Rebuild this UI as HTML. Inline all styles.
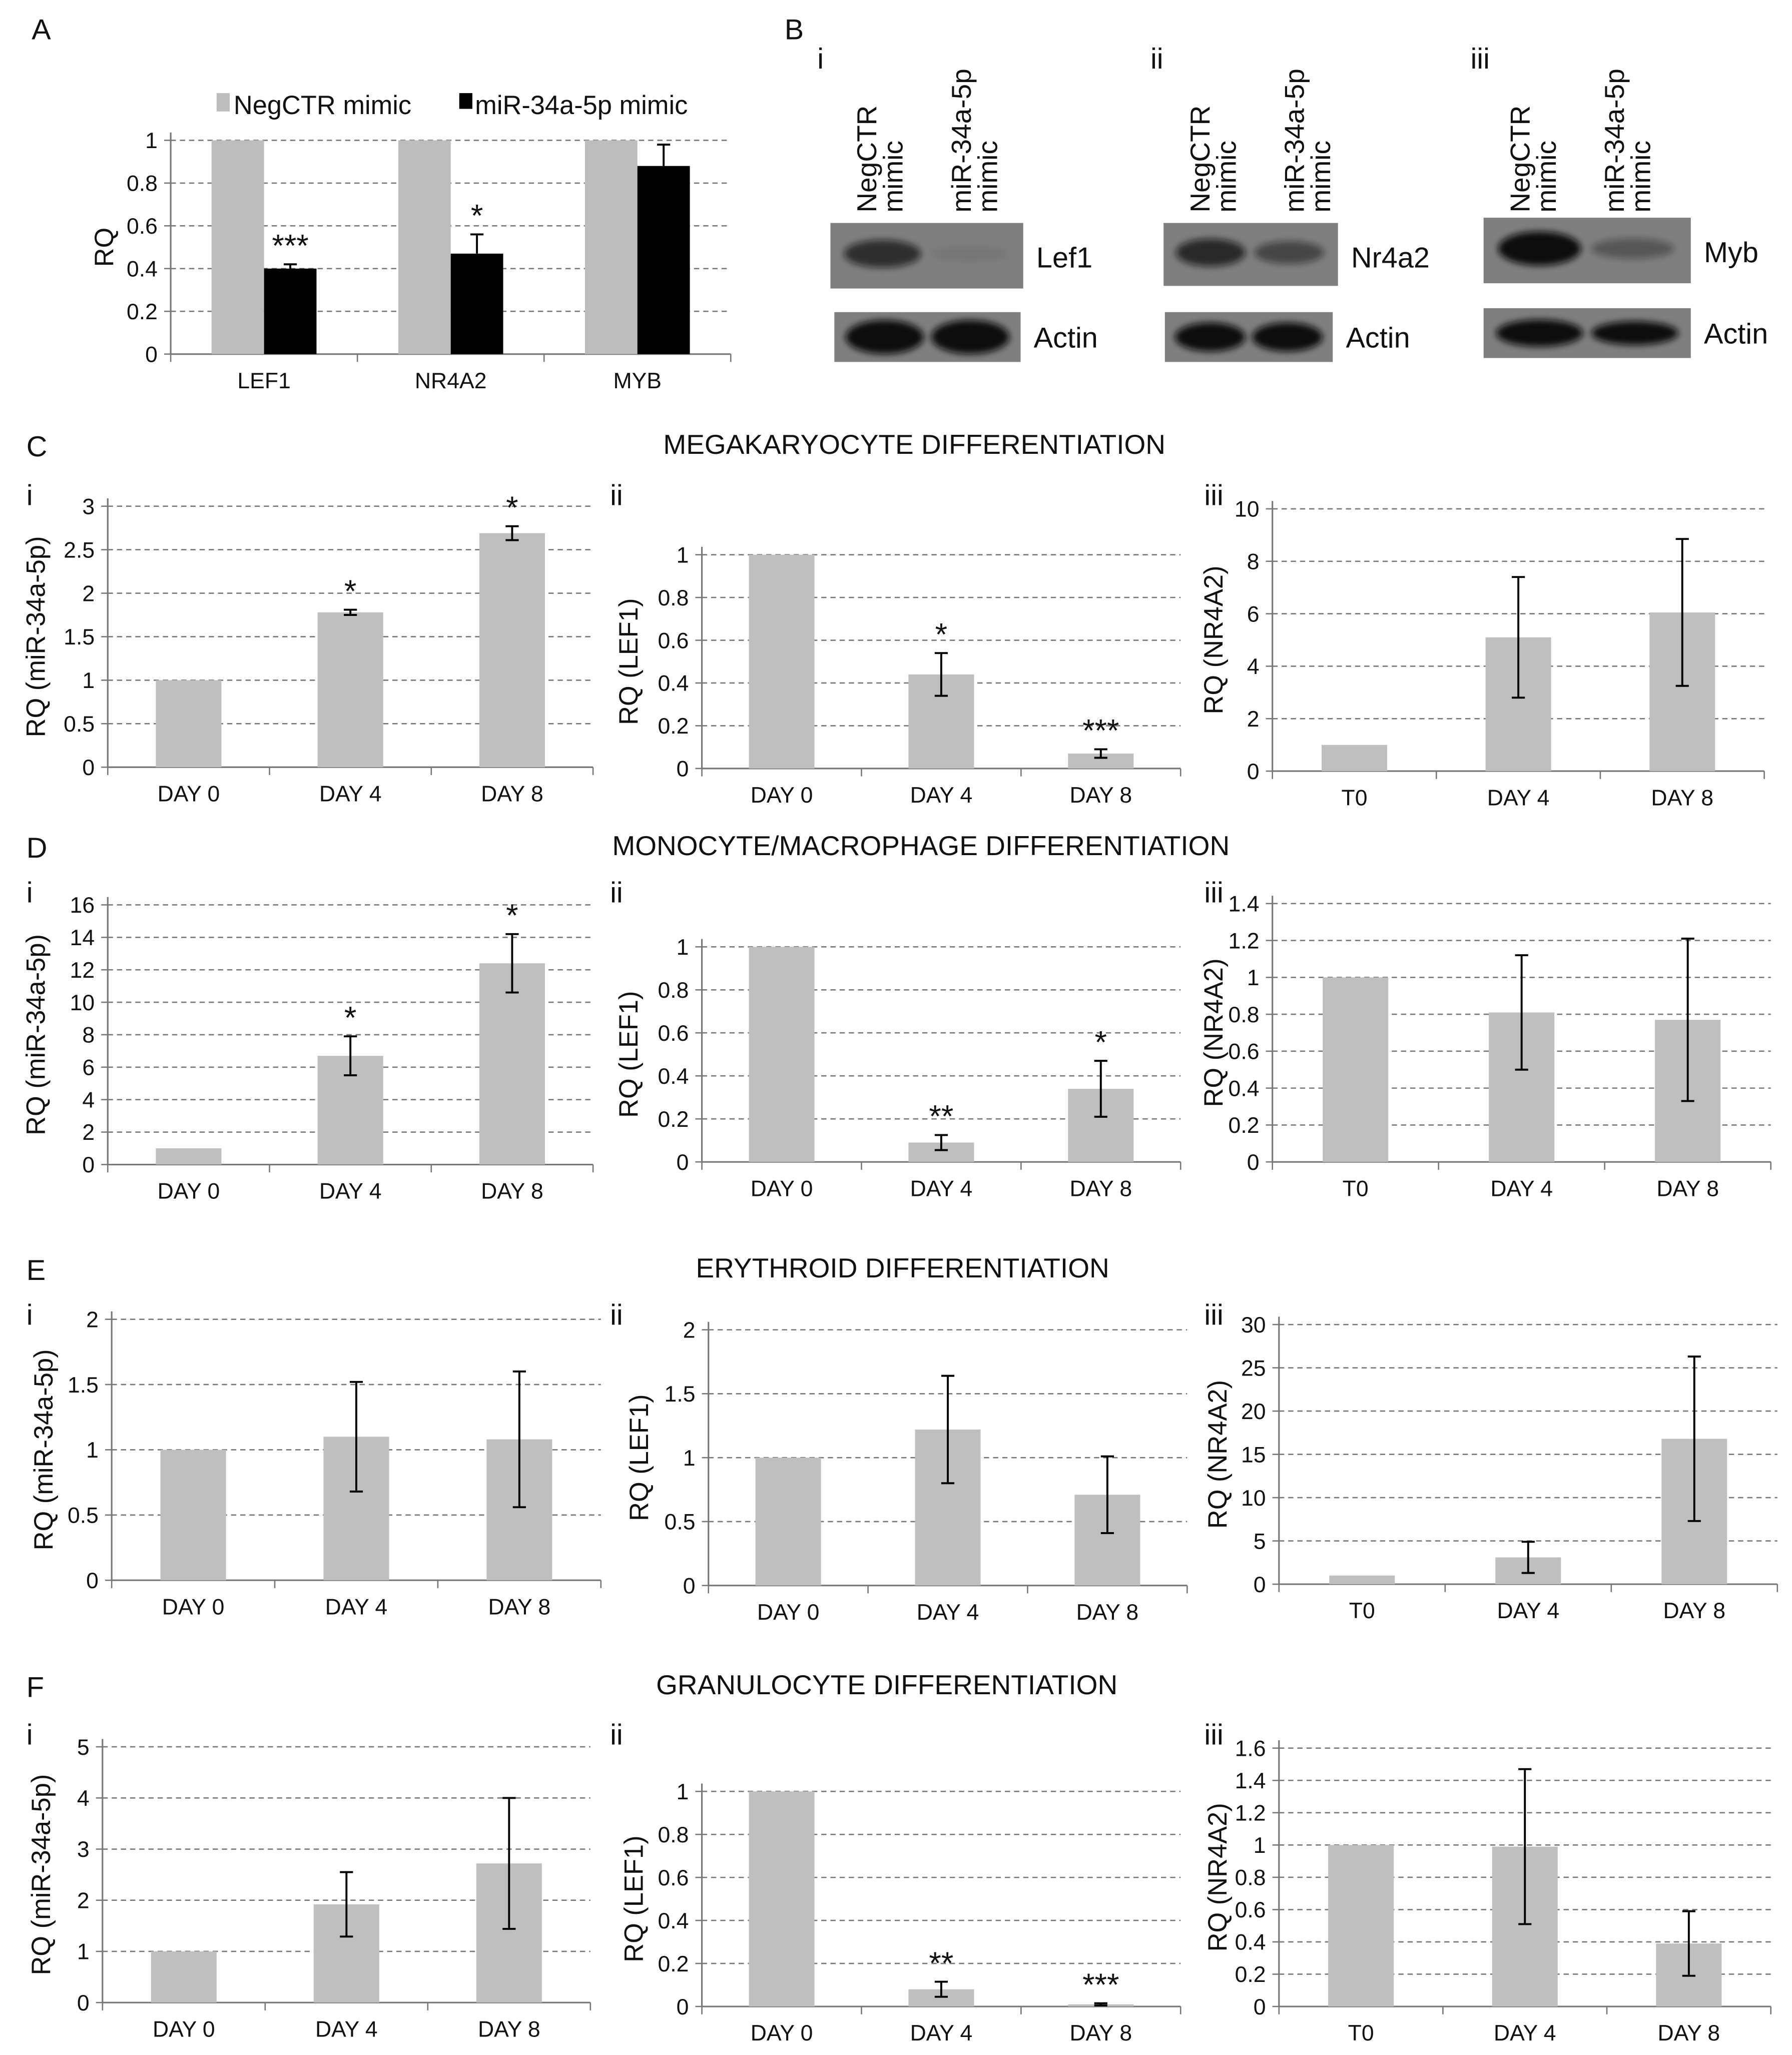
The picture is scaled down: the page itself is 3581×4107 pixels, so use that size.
<!DOCTYPE html>
<html><head><meta charset="utf-8">
<style>
html,body{margin:0;padding:0;background:#fff}
svg{display:block}
text{font-family:"Liberation Sans",sans-serif;fill:#111}
</style></head>
<body>
<svg id="fig" width="3581" height="4107" viewBox="0 0 1366 1567" xmlns="http://www.w3.org/2000/svg">
<defs><filter id="blur" x="-20%" y="-50%" width="140%" height="200%"><feGaussianBlur stdDeviation="2.5"/></filter></defs>
<g id="root"></g>
</svg>
<script>
// Panel A data
const aCategories = ["LEF1","NR4A2","MYB"];
const aNeg = [1,1,1];
const aMimic = [0.40,0.47,0.88];
const aMimicErr = [0.02,0.09,0.10];
const aStars = ["***","*",""];
const aTicks = [0,0.2,0.4,0.6,0.8,1];

// Panels C-F data
const dayLabels = ["DAY 0","DAY 4","DAY 8"];
const t0Labels = ["T0","DAY 4","DAY 8"];
const ciValues=[1,1.78,2.69], ciErr=[0,0.03,0.08], ciStars=["","*","*"], ciTicks=[0,0.5,1,1.5,2,2.5,3];
const ciiValues=[1,0.44,0.07], ciiErr=[0,0.1,0.02], ciiStars=["","*","***"], ciiTicks=[0,0.2,0.4,0.6,0.8,1];
const ciiiValues=[1,5.1,6.05], ciiiErr=[0,2.3,2.8], ciiiStars=["","",""], ciiiTicks=[0,2,4,6,8,10];
const diValues=[1,6.7,12.4], diErr=[0,1.2,1.8], diStars=["","*","*"], diTicks=[0,2,4,6,8,10,12,14,16];
const diiValues=[1,0.09,0.34], diiErr=[0,0.035,0.13], diiStars=["","**","*"], diiTicks=[0,0.2,0.4,0.6,0.8,1];
const diiiValues=[1,0.81,0.77], diiiErr=[0,0.31,0.44], diiiStars=["","",""], diiiTicks=[0,0.2,0.4,0.6,0.8,1,1.2,1.4];
const eiValues=[1,1.1,1.08], eiErr=[0,0.42,0.52], eiStars=["","",""], eiTicks=[0,0.5,1,1.5,2];
const eiiValues=[1,1.22,0.71], eiiErr=[0,0.42,0.3], eiiStars=["","",""], eiiTicks=[0,0.5,1,1.5,2];
const eiiiValues=[1,3.1,16.8], eiiiErr=[0,1.8,9.5], eiiiStars=["","",""], eiiiTicks=[0,5,10,15,20,25,30];
const fiValues=[1,1.92,2.72], fiErr=[0,0.63,1.28], fiStars=["","",""], fiTicks=[0,1,2,3,4,5];
const fiiValues=[1,0.08,0.01], fiiErr=[0,0.035,0.005], fiiStars=["","**","***"], fiiTicks=[0,0.2,0.4,0.6,0.8,1];
const fiiiValues=[1,0.99,0.39], fiiiErr=[0,0.48,0.2], fiiiStars=["","",""], fiiiTicks=[0,0.2,0.4,0.6,0.8,1,1.2,1.4,1.6];

const NS="http://www.w3.org/2000/svg";
const root=document.getElementById('root');
function el(tag,attrs,parent,txt){const e=document.createElementNS(NS,tag);for(const k in attrs)e.setAttribute(k,attrs[k]);if(txt!==undefined)e.textContent=txt;(parent||root).appendChild(e);return e;}
function label(x,y,t,size,name,anchor){const e=el('text',{x:x,y:y,'font-size':size,'text-anchor':anchor||'start'},root,t);

return e;}

function chart(c){
  const g=el('g',{});
  
  
  const max=c.ticks[c.ticks.length-1];
  const y=v=>c.y0-(v/max)*(c.y0-c.yTop);
  c.ticks.forEach(t=>{
    if(t>0){const l=el('line',{x1:c.x0,x2:c.x1,y1:y(t),y2:y(t),stroke:'#777','stroke-width':1,'stroke-dasharray':'4,3'},g);
    
    }
    const tl=el('text',{x:c.x0-10,y:y(t)+6,'font-size':17,'text-anchor':'end'},g,String(t));
    
    
    el('line',{x1:c.x0-5,x2:c.x0,y1:y(t),y2:y(t),stroke:'#777'},g);
  });
  el('line',{x1:c.x0,x2:c.x0,y1:c.yTop-6,y2:c.y0,stroke:'#777','stroke-width':1.2},g);
  el('line',{x1:c.x0,x2:c.x1,y1:c.y0,y2:c.y0,stroke:'#777','stroke-width':1.2},g);
  const n=c.cats.length, band=(c.x1-c.x0)/n;
  for(let i=0;i<=n;i++) el('line',{x1:c.x0+i*band,x2:c.x0+i*band,y1:c.y0,y2:c.y0+6,stroke:'#777'},g);
  c.cats.forEach((cat,i)=>{
    const cx=c.x0+band*(i+0.5);
    const xl=el('text',{x:cx,y:c.y0+26,'font-size':17,'text-anchor':'middle'},g,cat);
    
    
    c.series.forEach((s,si)=>{
      const v=s.values[i];
      const bx=c.series.length===1?cx-c.bw/2:cx-c.bw+si*c.bw;
      const r=el('rect',{x:bx,y:y(v),width:c.bw,height:c.y0-y(v),fill:s.color},g);
      
      
      const e=s.err?s.err[i]:0;
      const mx=bx+c.bw/2;
      if(e>0){
        const lo=c.upOnly?v:v-e;
        el('line',{x1:mx,x2:mx,y1:y(v+e),y2:y(lo),stroke:'#000','stroke-width':1.5},g);
        el('line',{x1:mx-5,x2:mx+5,y1:y(v+e),y2:y(v+e),stroke:'#000','stroke-width':1.5},g);
        if(!c.upOnly) el('line',{x1:mx-5,x2:mx+5,y1:y(v-e),y2:y(v-e),stroke:'#000','stroke-width':1.5},g);
      }
      if(s.stars&&s.stars[i]){
        const st=el('text',{x:mx,y:y(v+e)-6,'font-size':24,'text-anchor':'middle'},g,s.stars[i]);
        
        
      }
    });
  });
  const yl=el('text',{x:0,y:0,'font-size':20,'text-anchor':'middle',transform:`translate(${c.yLabX},${(c.y0+c.yTop)/2}) rotate(-90)`},g,c.yLabel);
  
  
}

// Panel A
label(24,30,'A',22,'panel-label-a');
chart({name:'chart-a',x0:130,x1:557,yTop:107,y0:270,ticks:aTicks,cats:aCategories,bw:40,upOnly:true,yLabel:'RQ',yLabX:86,
 series:[{key:'negctr',values:aNeg,color:'#bdbdbd'},{key:'mimic',values:aMimic,err:aMimicErr,stars:aStars,color:'#000'}]});
el('rect',{x:165,y:71,width:10,height:14,fill:'#bdbdbd'});
label(178,87,'NegCTR mimic',20,'legend-negctr');
el('rect',{x:350,y:71,width:10,height:12,fill:'#000'});
label(362,87,'miR-34a-5p mimic',20,'legend-mimic');

// Panel B blots
label(598,30,'B',22,'panel-label-b');
const blots=[
 {x:633,w:147,num:'i',prot:'Lef1',b1:[0.7,0.08],top:170,h:50,ax:636,aw:142,at:238,ah:38,a:[1,1]},
 {x:887,w:133,num:'ii',prot:'Nr4a2',b1:[0.75,0.5],top:170,h:48,ax:888,aw:128,at:238,ah:38,a:[0.85,0.85]},
 {x:1131,w:158,num:'iii',prot:'Myb',b1:[1,0.35],top:166,h:50,ax:1131,aw:158,at:235,ah:38,a:[0.8,0.7]}
];
blots.forEach((b,k)=>{
  label(b.x-10,52,b.num,22,'blot-panel-'+b.num);
  const t1=el('text',{x:0,y:0,'font-size':21,transform:`translate(${b.x+35},${162}) rotate(-90)`},root,'NegCTR');
  
  
  el('text',{x:0,y:0,'font-size':21,transform:`translate(${b.x+55},${162}) rotate(-90)`},root,'mimic');
  const t2=el('text',{x:0,y:0,'font-size':21,transform:`translate(${b.x+107},${162}) rotate(-90)`},root,'miR-34a-5p');
  
  
  el('text',{x:0,y:0,'font-size':21,transform:`translate(${b.x+127},${162}) rotate(-90)`},root,'mimic');
  const r=el('rect',{x:b.x,y:b.top,width:b.w,height:b.h,fill:'#7f7f7f'});
  
  
  [0.27,0.72].forEach((f,j)=>{const o=b.b1[j];if(o>0)el('ellipse',{cx:b.x+b.w*f,cy:b.top+b.h*0.47,rx:b.w*0.2,ry:b.h*(0.1+0.16*o),fill:'#111',opacity:o,filter:'url(#blur)'});});
  label(b.x+b.w+10,b.top+34,b.prot,22,'blot-label-'+b.prot.toLowerCase());
  const ra=el('rect',{x:b.ax,y:b.at,width:b.aw,height:b.ah,fill:'#7f7f7f'});
  
  
  [0.27,0.73].forEach((f,j)=>el('ellipse',{cx:b.ax+b.aw*f,cy:b.at+b.ah*0.5,rx:b.aw*0.21,ry:b.ah*0.34*b.a[j],fill:'#0d0d0d',filter:'url(#blur)'}));
  label(b.ax+b.aw+10,b.at+27,'Actin',22,'blot-label-actin');
});

// Section titles
label(20,348,'C',22,'panel-label-c');
label(697,346,'MEGAKARYOCYTE DIFFERENTIATION',21,'title-megakaryocyte','middle');
label(20,654,'D',22,'panel-label-d');
label(702,652,'MONOCYTE/MACROPHAGE DIFFERENTIATION',21,'title-monocyte','middle');
label(20,976,'E',22,'panel-label-e');
label(688,974,'ERYTHROID DIFFERENTIATION',21,'title-erythroid','middle');
label(20,1294,'F',22,'panel-label-f');
label(676,1292,'GRANULOCYTE DIFFERENTIATION',21,'title-granulocyte','middle');

const rows=[
 {nl:385,ch:[
  {x0:82,x1:452,yTop:386,y0:585,v:ciValues,e:ciErr,s:ciStars,t:ciTicks,c:dayLabels,yl:'RQ (miR-34a-5p)',lx:34,bw:50},
  {x0:535,x1:900,yTop:423,y0:586,v:ciiValues,e:ciiErr,s:ciiStars,t:ciiTicks,c:dayLabels,yl:'RQ (LEF1)',lx:486,bw:50},
  {x0:970,x1:1345,yTop:388,y0:588,v:ciiiValues,e:ciiiErr,s:ciiiStars,t:ciiiTicks,c:t0Labels,yl:'RQ (NR4A2)',lx:932,bw:50}]},
 {nl:688,ch:[
  {x0:82,x1:452,yTop:690,y0:888,v:diValues,e:diErr,s:diStars,t:diTicks,c:dayLabels,yl:'RQ (miR-34a-5p)',lx:34,bw:50},
  {x0:535,x1:900,yTop:722,y0:886,v:diiValues,e:diiErr,s:diiStars,t:diiTicks,c:dayLabels,yl:'RQ (LEF1)',lx:486,bw:50},
  {x0:970,x1:1350,yTop:689,y0:886,v:diiiValues,e:diiiErr,s:diiiStars,t:diiiTicks,c:t0Labels,yl:'RQ (NR4A2)',lx:932,bw:50}]},
 {nl:1010,ch:[
  {x0:85,x1:458,yTop:1006,y0:1205,v:eiValues,e:eiErr,s:eiStars,t:eiTicks,c:dayLabels,yl:'RQ (miR-34a-5p)',lx:40,bw:50},
  {x0:540,x1:905,yTop:1014,y0:1209,v:eiiValues,e:eiiErr,s:eiiStars,t:eiiTicks,c:dayLabels,yl:'RQ (LEF1)',lx:494,bw:50},
  {x0:975,x1:1355,yTop:1010,y0:1208,v:eiiiValues,e:eiiiErr,s:eiiiStars,t:eiiiTicks,c:t0Labels,yl:'RQ (NR4A2)',lx:935,bw:50}]},
 {nl:1330,ch:[
  {x0:78,x1:450,yTop:1332,y0:1527,v:fiValues,e:fiErr,s:fiStars,t:fiTicks,c:dayLabels,yl:'RQ (miR-34a-5p)',lx:38,bw:50},
  {x0:535,x1:900,yTop:1366,y0:1530,v:fiiValues,e:fiiErr,s:fiiStars,t:fiiTicks,c:dayLabels,yl:'RQ (LEF1)',lx:490,bw:50},
  {x0:975,x1:1350,yTop:1333,y0:1530,v:fiiiValues,e:fiiiErr,s:fiiiStars,t:fiiiTicks,c:t0Labels,yl:'RQ (NR4A2)',lx:935,bw:50}]}
];
const nums=['i','ii','iii'], numX=[20,465,918], rowNames=['c','d','e','f'];
rows.forEach((r,ri)=>{
  r.ch.forEach((c,ci)=>{
    label(numX[ci],r.nl,nums[ci],22,'subpanel-'+rowNames[ri]+'-'+nums[ci]);
    chart({name:'chart-'+rowNames[ri]+'-'+nums[ci],x0:c.x0,x1:c.x1,yTop:c.yTop,y0:c.y0,ticks:c.t,cats:c.c,bw:c.bw,yLabel:c.yl,yLabX:c.lx,
      series:[{key:'rq',values:c.v,err:c.e,stars:c.s,color:'#bfbfbf'}]});
  });
});
</script>
</body></html>
